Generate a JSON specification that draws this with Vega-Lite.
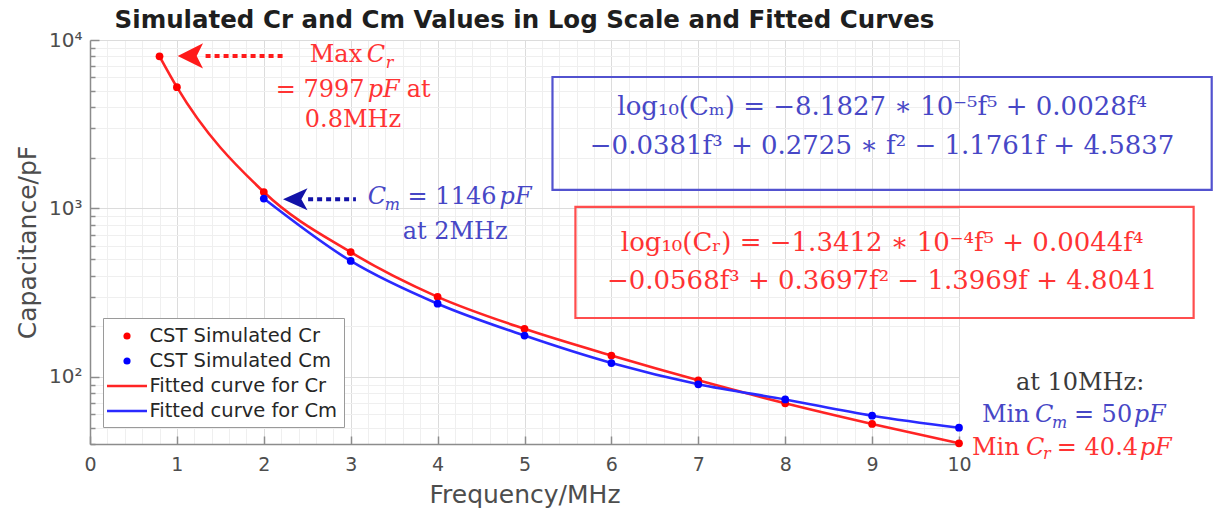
{
  "$schema": "https://vega.github.io/schema/vega-lite/v6.json",
  "width": 869,
  "height": 404,
  "autosize": {"type": "none"},
  "padding": {"left": 90, "top": 40, "right": 260, "bottom": 76},
  "background": "white",
  "title": {"text": "Simulated Cr and Cm Values in Log Scale and Fitted Curves", "font": "DejaVu Sans", "fontSize": 24.5, "fontWeight": "bold", "color": "#1e1e1e", "anchor": "middle", "offset": -3},
  "config": {"view": {"stroke": null}},
  "datasets": {
    "pts": [
      {"f": 0.8, "c": 7997, "sim": "CST Simulated Cr", "fit": "Fitted curve for Cr"},
      {"f": 1, "c": 5250, "sim": "CST Simulated Cr", "fit": "Fitted curve for Cr"},
      {"f": 2, "c": 1252, "sim": "CST Simulated Cr", "fit": "Fitted curve for Cr"},
      {"f": 3, "c": 550, "sim": "CST Simulated Cr", "fit": "Fitted curve for Cr"},
      {"f": 4, "c": 299, "sim": "CST Simulated Cr", "fit": "Fitted curve for Cr"},
      {"f": 5, "c": 193, "sim": "CST Simulated Cr", "fit": "Fitted curve for Cr"},
      {"f": 6, "c": 134, "sim": "CST Simulated Cr", "fit": "Fitted curve for Cr"},
      {"f": 7, "c": 95.5, "sim": "CST Simulated Cr", "fit": "Fitted curve for Cr"},
      {"f": 8, "c": 69.8, "sim": "CST Simulated Cr", "fit": "Fitted curve for Cr"},
      {"f": 9, "c": 52.6, "sim": "CST Simulated Cr", "fit": "Fitted curve for Cr"},
      {"f": 10, "c": 40.4, "sim": "CST Simulated Cr", "fit": "Fitted curve for Cr"},
      {"f": 2, "c": 1146, "sim": "CST Simulated Cm", "fit": "Fitted curve for Cm"},
      {"f": 3, "c": 488, "sim": "CST Simulated Cm", "fit": "Fitted curve for Cm"},
      {"f": 4, "c": 272, "sim": "CST Simulated Cm", "fit": "Fitted curve for Cm"},
      {"f": 5, "c": 176, "sim": "CST Simulated Cm", "fit": "Fitted curve for Cm"},
      {"f": 6, "c": 121, "sim": "CST Simulated Cm", "fit": "Fitted curve for Cm"},
      {"f": 7, "c": 90.5, "sim": "CST Simulated Cm", "fit": "Fitted curve for Cm"},
      {"f": 8, "c": 73.5, "sim": "CST Simulated Cm", "fit": "Fitted curve for Cm"},
      {"f": 9, "c": 58.9, "sim": "CST Simulated Cm", "fit": "Fitted curve for Cm"},
      {"f": 10, "c": 50, "sim": "CST Simulated Cm", "fit": "Fitted curve for Cm"}
    ],
    "boxes": [
      {"f": 5.322, "f2": 12.908, "c": 6030, "c2": 1288, "g": "b"},
      {"f": 5.586, "f2": 12.70, "c": 1021, "c2": 223.9, "g": "r"}
    ],
    "arrows": [
      {"f": 1.33, "f2": 2.24, "c": 8040, "g": "r"},
      {"f": 2.51, "f2": 3.06, "c": 1133, "g": "b"}
    ],
    "heads": [
      {"f": 1.155, "c": 8040, "g": "r"},
      {"f": 2.362, "c": 1133, "g": "b"}
    ],
    "ann": [
      {"g": "redReg", "t": "Max", "f": 2.529, "c": 8147},
      {"g": "redItal", "t": "C", "f": 3.184, "c": 8147},
      {"g": "redSub", "t": "r", "f": 3.402, "c": 7303},
      {"g": "redReg", "t": "= 7997", "f": 2.138, "c": 5050},
      {"g": "redItal", "t": "pF", "f": 3.195, "c": 5050},
      {"g": "redReg", "t": "at", "f": 3.644, "c": 5050},
      {"g": "redReg", "t": "0.8MHz", "f": 2.471, "c": 3350},
      {"g": "redReg", "t": "Min", "f": 10.149, "c": 37.9},
      {"g": "redItal", "t": "C", "f": 10.77, "c": 37.9},
      {"g": "redSub", "t": "r", "f": 10.966, "c": 34.9},
      {"g": "redReg", "t": "= 40.4", "f": 11.126, "c": 37.9},
      {"g": "redItal", "t": "pF", "f": 12.08, "c": 37.9},
      {"g": "blueItal", "t": "C", "f": 3.195, "c": 1170},
      {"g": "blueSub", "t": "m", "f": 3.391, "c": 1049},
      {"g": "blueReg", "t": "= 1146", "f": 3.655, "c": 1170},
      {"g": "blueItal", "t": "pF", "f": 4.713, "c": 1170},
      {"g": "blueReg", "t": "at 2MHz", "f": 3.598, "c": 725.4},
      {"g": "blueReg", "t": "Min", "f": 10.264, "c": 59.5},
      {"g": "blueItal", "t": "C", "f": 10.874, "c": 59.5},
      {"g": "blueSub", "t": "m", "f": 11.069, "c": 53.3},
      {"g": "blueReg", "t": "= 50", "f": 11.322, "c": 59.5},
      {"g": "blueItal", "t": "pF", "f": 12.011, "c": 59.5},
      {"g": "dark", "t": "at 10MHz:", "f": 10.655, "c": 92.1},
      {"g": "eqBlue", "t": "log₁₀(Cₘ) = −8.1827 ∗ 10⁻⁵f⁵ + 0.0028f⁴", "f": 9.115, "c": 4003},
      {"g": "eqBlue", "t": "−0.0381f³ + 0.2725 ∗ f² − 1.1761f + 4.5837", "f": 9.115, "c": 2349},
      {"g": "eqRed", "t": "log₁₀(Cᵣ) = −1.3412 ∗ 10⁻⁴f⁵ + 0.0044f⁴", "f": 9.115, "c": 623.7},
      {"g": "eqRed", "t": "−0.0568f³ + 0.3697f² − 1.3969f + 4.8041", "f": 9.115, "c": 371.5}
    ]
  },
  "encoding": {
    "x": {
      "field": "f", "type": "quantitative",
      "scale": {"domain": [0, 10], "nice": false, "zero": false},
      "axis": {
        "title": "Frequency/MHz",
        "values": [0,0.2,0.4,0.6,0.8,1,1.2,1.4,1.6,1.8,2,2.2,2.4,2.6,2.8,3,3.2,3.4,3.6,3.8,4,4.2,4.4,4.6,4.8,5,5.2,5.4,5.6,5.8,6,6.2,6.4,6.6,6.8,7,7.2,7.4,7.6,7.8,8,8.2,8.4,8.6,8.8,9,9.2,9.4,9.6,9.8,10],
        "labelExpr": "datum.value % 1 == 0 ? '' + datum.value : ''",
        "labelOverlap": false,
        "labelFlush": false,
        "grid": true,
        "gridColor": {"condition": {"test": "datum.value % 1 == 0", "value": "#dcdcdc"}, "value": "#efefef"},
        "gridWidth": 1,
        "tickSize": -8,
        "tickOpacity": {"condition": {"test": "datum.value % 1 == 0", "value": 1}, "value": 0},
        "tickColor": "#8c8c8c",
        "tickWidth": 1.5,
        "domainColor": "#8c8c8c",
        "domainWidth": 1.5,
        "labelPadding": 19,
        "labelFont": "DejaVu Sans",
        "labelFontSize": 19,
        "labelColor": "#4d4d4d",
        "titleFont": "DejaVu Sans",
        "titleFontSize": 25,
        "titleFontWeight": "normal",
        "titleColor": "#4d4d4d",
        "titlePadding": 8
      }
    },
    "y": {
      "field": "c", "type": "quantitative",
      "scale": {"type": "log", "domain": [40, 10000], "nice": false},
      "axis": {
        "title": "Capacitance/pF",
        "values": [40,50,60,70,80,90,100,200,300,400,500,600,700,800,900,1000,2000,3000,4000,5000,6000,7000,8000,9000,10000],
        "labelExpr": "datum.value == 100 ? '10²' : datum.value == 1000 ? '10³' : datum.value == 10000 ? '10⁴' : ''",
        "labelOverlap": false,
        "labelFlush": false,
        "grid": true,
        "gridColor": {"condition": {"test": "datum.value == 100 || datum.value == 1000 || datum.value == 10000", "value": "#dcdcdc"}, "value": "#efefef"},
        "gridWidth": 1,
        "tickSize": {"condition": {"test": "datum.value == 100 || datum.value == 1000 || datum.value == 10000", "value": -9}, "value": -5},
        "tickColor": "#8c8c8c",
        "tickWidth": 1.5,
        "domainColor": "#8c8c8c",
        "domainWidth": 1.5,
        "labelPadding": 17,
        "labelFont": "DejaVu Sans",
        "labelFontSize": 20,
        "labelColor": "#4d4d4d",
        "titleFont": "DejaVu Sans",
        "titleFontSize": 25,
        "titleFontWeight": "normal",
        "titleColor": "#4d4d4d",
        "titlePadding": 8
      }
    }
  },
  "layer": [
    {
      "data": {"name": "boxes"},
      "transform": [{"filter": "datum.g == 'b'"}],
      "mark": {"type": "rect", "fillOpacity": 0, "stroke": "#5252cf", "strokeWidth": 2.2},
      "encoding": {"x2": {"field": "f2"}, "y2": {"field": "c2"}}
    },
    {
      "data": {"name": "boxes"},
      "transform": [{"filter": "datum.g == 'r'"}],
      "mark": {"type": "rect", "fillOpacity": 0, "stroke": "#ff4d4d", "strokeWidth": 2.2},
      "encoding": {"x2": {"field": "f2"}, "y2": {"field": "c2"}}
    },
    {
      "data": {"name": "pts"},
      "mark": {"type": "line", "interpolate": "monotone", "strokeWidth": 2.6},
      "encoding": {
        "color": {
          "field": "fit", "type": "nominal",
          "scale": {"domain": ["CST Simulated Cr", "CST Simulated Cm", "Fitted curve for Cr", "Fitted curve for Cm"], "range": ["#ff0000", "#0000ff", "#ff2424", "#2a2aff"]},
          "legend": {
            "title": null, "orient": "none", "legendX": 13, "legendY": 278,
            "fillColor": "white", "strokeColor": "#9a9a9a", "padding": 6.5,
            "rowPadding": 4, "labelOffset": 17,
            "labelFont": "DejaVu Sans", "labelFontSize": 19.5, "labelColor": "#262626", "labelLimit": 400,
            "encode": {"symbols": {"update": {
              "shape": {"signal": "indexof(datum.value, 'Fitted') >= 0 ? 'M-1.4,0 H2.6' : 'M0.365,0 A0.235,0.235 0 1,0 0.835,0 A0.235,0.235 0 1,0 0.365,0 Z'"},
              "size": {"value": 400},
              "strokeWidth": {"value": 2.5},
              "stroke": {"scale": "color", "field": "value"},
              "fill": {"scale": "color", "field": "value"},
              "opacity": {"value": 1}
            }}}
          }
        }
      }
    },
    {
      "data": {"name": "pts"},
      "mark": {"type": "point", "filled": true, "size": 60, "opacity": 1},
      "encoding": {
        "color": {
          "field": "sim", "type": "nominal",
          "scale": {"domain": ["CST Simulated Cr", "CST Simulated Cm", "Fitted curve for Cr", "Fitted curve for Cm"], "range": ["#ff0000", "#0000ff", "#ff2424", "#2a2aff"]}
        }
      }
    },
    {
      "data": {"name": "arrows"},
      "transform": [{"filter": "datum.g == 'r'"}],
      "mark": {"type": "rule", "color": "#ff1a1a", "strokeWidth": 4, "strokeDash": [5, 4]},
      "encoding": {"x2": {"field": "f2"}}
    },
    {
      "data": {"name": "arrows"},
      "transform": [{"filter": "datum.g == 'b'"}],
      "mark": {"type": "rule", "color": "#1212a8", "strokeWidth": 4, "strokeDash": [5, 4]},
      "encoding": {"x2": {"field": "f2"}}
    },
    {
      "data": {"name": "heads"},
      "transform": [{"filter": "datum.g == 'r'"}],
      "mark": {"type": "point", "shape": "M-1,0 L1,-1 L0.5,0 L1,1 Z", "filled": true, "size": 640, "color": "#ff1a1a", "opacity": 1}
    },
    {
      "data": {"name": "heads"},
      "transform": [{"filter": "datum.g == 'b'"}],
      "mark": {"type": "point", "shape": "M-1,0 L1,-0.9 L0.5,0 L1,0.9 Z", "filled": true, "size": 600, "color": "#1212a8", "opacity": 1}
    },
    {
      "data": {"name": "ann"},
      "transform": [{"filter": "datum.g == 'redReg'"}],
      "mark": {"type": "text", "font": "DejaVu Serif", "fontSize": 24, "color": "#ff3333", "align": "left", "baseline": "middle"},
      "encoding": {"text": {"field": "t"}}
    },
    {
      "data": {"name": "ann"},
      "transform": [{"filter": "datum.g == 'redItal'"}],
      "mark": {"type": "text", "font": "DejaVu Serif", "fontStyle": "italic", "fontSize": 24, "color": "#ff3333", "align": "left", "baseline": "middle"},
      "encoding": {"text": {"field": "t"}}
    },
    {
      "data": {"name": "ann"},
      "transform": [{"filter": "datum.g == 'redSub'"}],
      "mark": {"type": "text", "font": "DejaVu Serif", "fontStyle": "italic", "fontSize": 16, "color": "#ff3333", "align": "left", "baseline": "middle"},
      "encoding": {"text": {"field": "t"}}
    },
    {
      "data": {"name": "ann"},
      "transform": [{"filter": "datum.g == 'blueReg'"}],
      "mark": {"type": "text", "font": "DejaVu Serif", "fontSize": 24, "color": "#4747c6", "align": "left", "baseline": "middle"},
      "encoding": {"text": {"field": "t"}}
    },
    {
      "data": {"name": "ann"},
      "transform": [{"filter": "datum.g == 'blueItal'"}],
      "mark": {"type": "text", "font": "DejaVu Serif", "fontStyle": "italic", "fontSize": 24, "color": "#4747c6", "align": "left", "baseline": "middle"},
      "encoding": {"text": {"field": "t"}}
    },
    {
      "data": {"name": "ann"},
      "transform": [{"filter": "datum.g == 'blueSub'"}],
      "mark": {"type": "text", "font": "DejaVu Serif", "fontStyle": "italic", "fontSize": 16, "color": "#4747c6", "align": "left", "baseline": "middle"},
      "encoding": {"text": {"field": "t"}}
    },
    {
      "data": {"name": "ann"},
      "transform": [{"filter": "datum.g == 'dark'"}],
      "mark": {"type": "text", "font": "DejaVu Serif", "fontSize": 24, "color": "#3a3a3a", "align": "left", "baseline": "middle"},
      "encoding": {"text": {"field": "t"}}
    },
    {
      "data": {"name": "ann"},
      "transform": [{"filter": "datum.g == 'eqBlue'"}],
      "mark": {"type": "text", "font": "DejaVu Serif", "fontSize": 26, "color": "#4747c6", "align": "center", "baseline": "middle"},
      "encoding": {"text": {"field": "t"}}
    },
    {
      "data": {"name": "ann"},
      "transform": [{"filter": "datum.g == 'eqRed'"}],
      "mark": {"type": "text", "font": "DejaVu Serif", "fontSize": 26, "color": "#ff3333", "align": "center", "baseline": "middle"},
      "encoding": {"text": {"field": "t"}}
    }
  ]
}
